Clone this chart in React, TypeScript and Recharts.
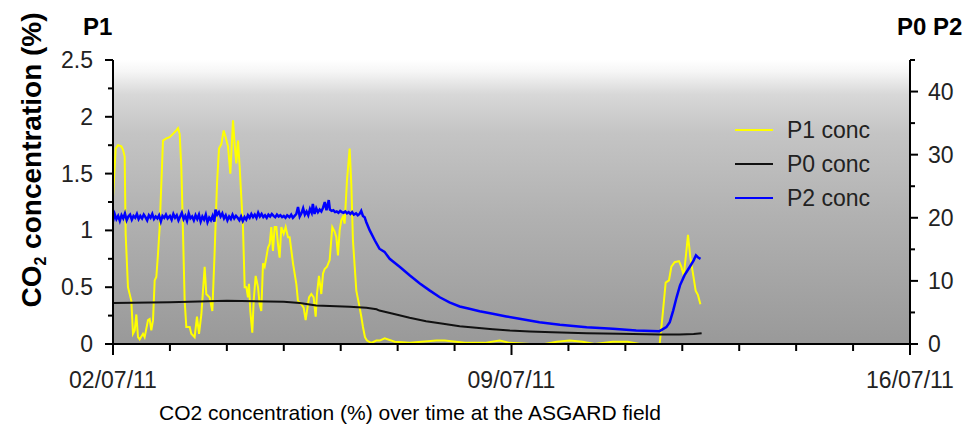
import React from 'react';
import { LineChart, Line, XAxis, YAxis, Legend, ReferenceLine } from 'recharts';

const FONT = '"Liberation Sans", Arial, Helvetica, sans-serif';

// Time axis: days since 02/07/11 00:00
const xTickDays = [0, 1, 2, 3, 4, 5, 6, 7, 8, 9, 10, 11, 12, 13, 14];
const xLabelDays = [0, 7, 14];
const xLabelTexts = ['02/07/11', '09/07/11', '16/07/11'];

const leftTicks = [0, 0.25, 0.5, 0.75, 1, 1.25, 1.5, 1.75, 2, 2.25, 2.5];
const leftLabelValues = [0, 0.5, 1, 1.5, 2, 2.5];
const leftLabelTexts = ['0', '0.5', '1', '1.5', '2', '2.5'];

const rightTicks = [0, 5, 10, 15, 20, 25, 30, 35, 40, 45];
const rightLabelValues = [0, 10, 20, 30, 40];
const rightLabelTexts = ['0', '10', '20', '30', '40'];

const seriesNames = ['P1 conc', 'P0 conc', 'P2 conc'];

// P1 concentration (%) — left axis
const p1Days = [
  0, 0.047, 0.088, 0.146, 0.176, 0.205, 0.222, 0.263, 0.322, 0.351, 0.381, 0.41, 0.439, 0.468, 0.527, 0.556,
  0.615, 0.644, 0.673, 0.703, 0.732, 0.761, 0.79, 0.82, 0.878, 0.937, 0.995, 1.054, 1.112, 1.142, 1.171, 1.2,
  1.23, 1.259, 1.288, 1.347, 1.376, 1.434, 1.475, 1.511, 1.552, 1.581, 1.61, 1.639, 1.698, 1.745, 1.786, 1.827,
  1.862, 1.903, 1.944, 1.979, 2.02, 2.061, 2.108, 2.137, 2.166, 2.196, 2.225, 2.254, 2.283, 2.313, 2.342, 2.371,
  2.389, 2.412, 2.447, 2.471, 2.506, 2.547, 2.576, 2.605, 2.635, 2.664, 2.693, 2.723, 2.752, 2.781, 2.81, 2.84,
  2.869, 2.898, 2.927, 2.957, 2.998, 3.033, 3.074, 3.103, 3.162, 3.22, 3.249, 3.308, 3.349, 3.384, 3.407, 3.443,
  3.484, 3.525, 3.56, 3.583, 3.618, 3.659, 3.689, 3.718, 3.759, 3.806, 3.852, 3.893, 3.923, 3.952, 3.981, 4.011,
  4.04, 4.069, 4.11, 4.157, 4.186, 4.215, 4.274, 4.333, 4.362, 4.391, 4.426, 4.461, 4.538, 4.625, 4.685, 4.773,
  4.948, 5.212, 5.681, 5.826, 6.178, 6.529, 6.793, 6.968, 7.319, 7.583, 7.794, 8.022, 8.248, 8.46, 8.777, 9.04,
  9.25, 9.603, 9.661, 9.708, 9.766, 9.808, 9.866, 9.942, 9.984, 10.025, 10.06, 10.1, 10.142, 10.188, 10.235, 10.276,
  10.318,
];
const p1Conc = [
  1.29, 1.72, 1.75, 1.74, 1.71, 1.65, 0.97, 0.5, 0.38, 0.09, 0.12, 0.26, 0.06, 0.04, 0.09, 0.06,
  0.21, 0.22, 0.12, 0.21, 0.56, 0.59, 0.79, 1.03, 1.79, 1.81, 1.82, 1.85, 1.88, 1.9, 1.85, 1.56,
  0.97, 0.38, 0.15, 0.15, 0.09, 0.06, 0.24, 0.09, 0.26, 0.47, 0.68, 0.44, 0.41, 0.29, 0.82, 1.41,
  1.72, 1.76, 1.88, 1.82, 1.74, 1.5, 1.97, 1.76, 1.59, 1.79, 1.56, 1.29, 1.03, 0.5, 0.5, 0.41,
  0.53, 0.29, 0.1, 0.38, 0.6, 0.5, 0.35, 0.29, 0.71, 0.68, 0.76, 0.85, 0.88, 1.03, 0.82, 1.03,
  1.03, 0.88, 0.76, 1.03, 0.97, 1.03, 0.94, 0.94, 0.71, 0.53, 0.38, 0.35, 0.32, 0.21, 0.29, 0.41,
  0.44, 0.41, 0.24, 0.44, 0.6, 0.44, 0.62, 0.66, 0.68, 0.74, 1.03, 0.99, 0.94, 0.78, 1.0, 1.09,
  1.12, 1.06, 1.44, 1.72, 1.41, 0.91, 0.47, 0.32, 0.24, 0.15, 0.06, 0.03, 0.01, 0.03, 0.03, 0.05,
  0.02, 0.01, 0.03, 0.03, 0.01, 0.01, 0.03, 0.01, 0, 0, 0.02, 0.03, 0.02, 0, 0.02, 0.02,
  0, 0, 0.29, 0.54, 0.56, 0.68, 0.72, 0.73, 0.68, 0.6, 0.76, 0.96, 0.76, 0.62, 0.47, 0.43,
  0.35,
];

// P0 concentration (%) — right axis
const p0Days = [
  0, 1.0, 2.0, 3.0, 3.28, 3.57, 4.16, 4.45, 4.63, 4.68, 4.92, 5.21, 5.5, 5.8, 6.09, 6.38, 6.67, 6.97, 7.32,
  7.72, 8.32, 8.9, 9.6, 9.95, 10.2, 10.34,
];
const p0Conc = [
  6.5, 6.6, 6.85, 6.7, 6.5, 6.1, 5.9, 5.75, 5.5, 5.3, 4.8, 4.15, 3.62, 3.2, 2.83, 2.57, 2.35, 2.14, 1.98,
  1.87, 1.71, 1.62, 1.51, 1.51, 1.58, 1.72,
];

// P2 concentration (%) — right axis
const p2Days = [
  0, 0.03, 0.06, 0.09, 0.12, 0.15, 0.18, 0.21, 0.24, 0.27, 0.3, 0.33, 0.36, 0.39, 0.42, 0.45, 0.48, 0.51, 0.54,
  0.57, 0.6, 0.63, 0.66, 0.69, 0.72, 0.75, 0.78, 0.81, 0.84, 0.87, 0.9, 0.93, 0.96, 1.0, 1.03, 1.06, 1.09, 1.12,
  1.15, 1.18, 1.21, 1.24, 1.27, 1.3, 1.33, 1.36, 1.39, 1.42, 1.45, 1.48, 1.51, 1.54, 1.57, 1.6, 1.63, 1.66, 1.69,
  1.72, 1.75, 1.78, 1.8, 1.83, 1.86, 1.89, 1.92, 1.95, 1.98, 2.01, 2.04, 2.07, 2.1, 2.13, 2.16, 2.19, 2.22, 2.25,
  2.28, 2.31, 2.34, 2.37, 2.4, 2.43, 2.46, 2.49, 2.52, 2.55, 2.58, 2.61, 2.64, 2.67, 2.7, 2.73, 2.76, 2.79, 2.82,
  2.85, 2.88, 2.91, 2.94, 2.97, 3.0, 3.03, 3.06, 3.1, 3.13, 3.16, 3.19, 3.22, 3.25, 3.28, 3.31, 3.34, 3.37, 3.4,
  3.43, 3.46, 3.49, 3.51, 3.54, 3.57, 3.6, 3.63, 3.66, 3.69, 3.72, 3.75, 3.79, 3.81, 3.84, 3.87, 3.9, 3.93, 3.96,
  3.99, 4.02, 4.05, 4.08, 4.11, 4.14, 4.17, 4.2, 4.23, 4.27, 4.3, 4.33, 4.36, 4.39, 4.42, 4.45, 4.51, 4.6, 4.68,
  4.77, 4.86, 5.04, 5.21, 5.39, 5.56, 5.74, 5.91, 6.09, 6.26, 6.44, 6.67, 6.91, 7.14, 7.49, 7.85, 8.32, 8.78,
  9.19, 9.6, 9.72, 9.78, 9.84, 9.9, 9.96, 10.04, 10.13, 10.2, 10.24, 10.28, 10.32,
];
const p2Conc = [
  19.4, 20.6, 19.8, 20.3, 19.5, 20.4, 19.9, 20.7, 19.6, 20.2, 20.5, 19.7, 20.3, 20.0, 20.6, 19.8, 20.3, 19.9, 20.5,
  20.1, 19.6, 20.4, 20.0, 20.6, 19.8, 20.2, 19.9, 20.4, 19.4, 20.3, 20.0, 20.5, 19.9, 20.3, 19.7, 20.6, 20.0, 20.4,
  19.6, 20.2, 20.8, 19.8, 20.3, 19.5, 20.7, 19.9, 20.2, 19.6, 20.4, 19.8, 20.5, 19.4, 20.2, 19.7, 20.5, 19.3, 20.0,
  19.6, 20.3, 19.4, 21.3, 20.5, 20.9, 20.2, 20.7, 19.9, 20.4, 19.6, 20.2, 19.8, 20.5, 19.9, 20.3, 20.0, 19.6, 20.2,
  19.5, 20.1, 19.7, 20.4, 20.0, 20.6, 20.1, 20.5, 20.0, 20.8, 20.2, 20.6, 20.1, 20.4, 20.0, 20.5, 20.2, 20.6, 20.3,
  20.1, 20.5, 20.2, 20.4, 20.1, 20.3, 20.0, 20.4, 20.1, 20.5, 20.0, 20.3, 20.6, 21.7, 20.2, 20.7, 21.5, 20.5, 21.0,
  20.4, 21.4, 20.8, 22.2, 20.6, 21.5, 20.9, 21.3, 21.0, 21.6, 22.5, 21.2, 22.8, 21.3, 21.1, 21.2, 20.9, 21.0, 20.8,
  21.1, 20.9, 20.8, 21.0, 20.7, 20.9, 20.6, 20.9, 20.5, 20.7, 20.4, 20.6, 21.1, 20.3, 20.1, 19.3, 18.0, 16.4, 15.1,
  14.6, 13.5, 12.2, 10.9, 9.6, 8.5, 7.4, 6.6, 5.95, 5.6, 5.2, 4.8, 4.37, 4.0, 3.46, 3.05, 2.67, 2.41,
  2.14, 2.03, 2.67, 3.46, 5.3, 7.4, 9.3, 10.9, 12.2, 13.25, 14.05, 13.7, 13.5,
];

const toRows = (days: number[], vals: number[]) => days.map((d, i) => ({ d, v: vals[i] }));
const p1Data = toRows(p1Days, p1Conc);
const p0Data = toRows(p0Days, p0Conc);
const p2Data = toRows(p2Days, p2Conc);

const XTick = (props: any) => {
  const { x, y, payload } = props;
  const idx = xLabelDays.indexOf(payload.value);
  const major = idx >= 0;
  return (
    <g>
      <line x1={x} x2={x} y1={y} y2={y + (major ? 11 : 7)} stroke="#000" strokeWidth={2} />
      {major && (
        <text x={x} y={y + 44} textAnchor="middle" fontSize={23} fill="#222" fontFamily={FONT}>
          {xLabelTexts[idx]}
        </text>
      )}
    </g>
  );
};

const LeftTick = (props: any) => {
  const { x, y, payload } = props;
  const idx = leftLabelValues.indexOf(payload.value);
  const major = idx >= 0;
  return (
    <g>
      <line x1={x} x2={x - (major ? 8 : 5)} y1={y} y2={y} stroke="#000" strokeWidth={2} />
      {major && (
        <text x={x - 20} y={y + 8} textAnchor="end" fontSize={23} fill="#222" fontFamily={FONT}>
          {leftLabelTexts[idx]}
        </text>
      )}
    </g>
  );
};

const RightTick = (props: any) => {
  const { x, y, payload } = props;
  const idx = rightLabelValues.indexOf(payload.value);
  const major = idx >= 0;
  return (
    <g>
      <line x1={x} x2={x + (major ? 8 : 5)} y1={y} y2={y} stroke="#000" strokeWidth={2} />
      {major && (
        <text x={x + 18} y={y + 8} textAnchor="start" fontSize={23} fill="#222" fontFamily={FONT}>
          {rightLabelTexts[idx]}
        </text>
      )}
    </g>
  );
};

const LegendContent = (props: any) => {
  const payload = [...(props.payload || [])].sort(
    (a: any, b: any) => seriesNames.indexOf(a.value) - seriesNames.indexOf(b.value)
  );
  return (
    <div style={{ fontFamily: FONT }}>
      {payload.map((entry: any, i: number) => (
        <div key={i} style={{ display: 'flex', alignItems: 'center', height: 34 }}>
          <div style={{ width: 38, height: 2, background: entry.color, marginRight: 14 }} />
          <span style={{ fontSize: 23, color: '#222', lineHeight: '34px' }}>{entry.value}</span>
        </div>
      ))}
    </div>
  );
};

export default function App() {
  return (
    <div style={{ position: 'absolute', left: 0, top: 0, width: 976, height: 428, background: '#fff' }}>
      <div
        style={{
          position: 'absolute',
          left: 113,
          top: 60,
          width: 797,
          height: 284,
          background:
            'linear-gradient(to bottom, #ffffff 0%, #f6f6f6 4%, #d8d8d8 12%, #c4c4c4 26%, #b1b1b1 55%, #999999 100%)',
        }}
      />
      <div style={{ position: 'absolute', left: 0, top: 0 }}>
        <LineChart width={976} height={428} margin={{ top: 60, right: 0, bottom: 40, left: 0 }}>
          <XAxis
            dataKey="d"
            type="number"
            domain={[0, 14]}
            ticks={xTickDays}
            interval={0}
            height={44}
            tickLine={false}
            tickSize={0}
            tickMargin={0}
            axisLine={{ stroke: '#000', strokeWidth: 2 }}
            tick={<XTick />}
            allowDataOverflow
          />
          <YAxis
            yAxisId="left"
            orientation="left"
            type="number"
            domain={[0, 2.5]}
            ticks={leftTicks}
            interval={0}
            width={113}
            tickLine={false}
            tickSize={0}
            tickMargin={0}
            axisLine={{ stroke: '#000', strokeWidth: 2 }}
            tick={<LeftTick />}
          />
          <YAxis
            yAxisId="right"
            orientation="right"
            type="number"
            domain={[0, 45]}
            ticks={rightTicks}
            interval={0}
            width={66}
            tickLine={false}
            tickSize={0}
            tickMargin={0}
            axisLine={{ stroke: '#000', strokeWidth: 2 }}
            tick={<RightTick />}
          />
          <Line
            data={p1Data}
            dataKey="v"
            name={seriesNames[0]}
            yAxisId="left"
            type="linear"
            stroke="#ffff00"
            strokeWidth={2}
            dot={false}
            activeDot={false}
            isAnimationActive={false}
          />
          <Line
            data={p0Data}
            dataKey="v"
            name={seriesNames[1]}
            yAxisId="right"
            type="linear"
            stroke="#111111"
            strokeWidth={2}
            dot={false}
            activeDot={false}
            isAnimationActive={false}
          />
          <Line
            data={p2Data}
            dataKey="v"
            name={seriesNames[2]}
            yAxisId="right"
            type="linear"
            stroke="#0000ff"
            strokeWidth={2.5}
            dot={false}
            activeDot={false}
            isAnimationActive={false}
          />
          <ReferenceLine yAxisId="left" y={0} stroke="#000" strokeWidth={2} ifOverflow="visible" />
          <Legend
            layout="vertical"
            align="center"
            verticalAlign="middle"
            wrapperStyle={{ left: 735, top: 113, width: 200 }}
            content={<LegendContent />}
          />
        </LineChart>
      </div>
      <svg
        width={976}
        height={428}
        style={{ position: 'absolute', left: 0, top: 0, pointerEvents: 'none' }}
      >
        <text x={83} y={35} fontSize={24} fontWeight="bold" fill="#000" fontFamily={FONT}>
          P1
        </text>
        <text x={897} y={35} fontSize={24} fontWeight="bold" fill="#000" fontFamily={FONT}>
          P0 P2
        </text>
        <text
          transform="translate(41,160) rotate(-90)"
          textAnchor="middle"
          fontSize={28}
          fontWeight="bold"
          fill="#000"
          fontFamily={FONT}
        >
          CO
          <tspan fontSize={16} dy={5}>2</tspan>
          <tspan dy={-5}> concentration (%)</tspan>
        </text>
        <text x={410} y={420} textAnchor="middle" fontSize={21} fill="#000" fontFamily={FONT}>
          CO2 concentration (%) over time at the ASGARD field
        </text>
      </svg>
    </div>
  );
}
